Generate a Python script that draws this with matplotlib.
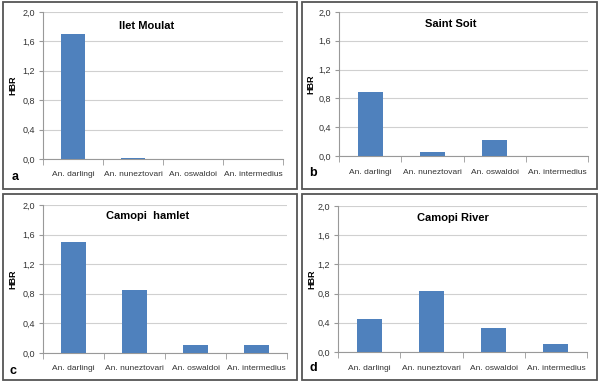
import matplotlib
matplotlib.use("Agg")
import matplotlib.pyplot as plt
from matplotlib.patches import Rectangle

plt.rcParams['font.family'] = ['Liberation Sans', 'DejaVu Sans']

species = ['An. darlingi', 'An. nuneztovari', 'An. oswaldoi', 'An. intermedius']
ilet_moulat = [1.70, 0.02, 0.0, 0.0]
saint_soit = [0.89, 0.05, 0.22, 0.0]
camopi_hamlet = [1.50, 0.85, 0.11, 0.11]
camopi_river = [0.45, 0.84, 0.33, 0.11]
titles = ['Ilet Moulat', 'Saint Soit', 'Camopi  hamlet', 'Camopi River']
letters = ['a', 'b', 'c', 'd']
yticks = [0.0, 0.4, 0.8, 1.2, 1.6, 2.0]

W, H = 600, 384
fig = plt.figure(figsize=(6, 3.84), dpi=100)

# panel boxes and plot areas in pixels (left, top, right, bottom)
boxes = [(3, 2, 297, 189), (302, 2, 597, 189), (3, 194, 297, 380), (302, 194, 597, 380)]
areas = [(43, 12, 283, 159), (339, 12, 588, 156), (43, 205, 287, 353), (338, 206, 587, 352)]
title_pos = [(0.43, 0.905), (0.45, 0.915), (0.43, 0.925), (0.46, 0.918)]
letter_pos = [(15, 177), (313, 173), (13, 371), (313, 368)]
hbr_x = [13, 311, 13, 312]

for bx in boxes:
    l, t, r, b = bx
    fig.patches.append(Rectangle((l / W, 1 - b / H), (r - l) / W, (b - t) / H,
                                 transform=fig.transFigure, fill=False,
                                 edgecolor='#555555', linewidth=1.3))

data = [ilet_moulat, saint_soit, camopi_hamlet, camopi_river]
for i, vals in enumerate(data):
    l, t, r, b = areas[i]
    ax = fig.add_axes([l / W, 1 - b / H, (r - l) / W, (b - t) / H])
    x = range(len(species))
    ax.bar(x, vals, width=0.4, color='#4F81BD', zorder=3)
    ax.set_xlim(-0.5, 3.5)
    ax.set_ylim(0, 2.0)
    ax.set_yticks(yticks)
    ax.set_yticklabels([f'{v:.1f}'.replace('.', ',') for v in yticks], fontsize=6.5, color='#333333')
    ax.yaxis.grid(True, color='#d0d0d0', linewidth=0.8, zorder=0)
    ax.set_xticks([0, 1, 2, 3])
    ax.set_xticklabels(species, fontsize=6, color='#333333')
    ax.set_xticks([-0.5, 0.5, 1.5, 2.5, 3.5], minor=True)
    ax.tick_params(axis='x', which='major', length=0, pad=9)
    ax.tick_params(axis='x', which='minor', length=4, color='#999999')
    ax.tick_params(axis='y', length=3, color='#999999', pad=3)
    for s in ['top', 'right']:
        ax.spines[s].set_visible(False)
    ax.spines['left'].set_color('#999999')
    ax.spines['bottom'].set_color('#999999')
    fig.text(hbr_x[i] / W, 1 - (t + b) / 2 / H, 'HBR', rotation=90, ha='center',
             va='center', fontsize=6.5, fontweight='bold')
    ax.text(title_pos[i][0], title_pos[i][1], titles[i], transform=ax.transAxes,
            ha='center', va='center', fontsize=8, fontweight='bold')
    lx, ly = letter_pos[i]
    fig.text(lx / W, 1 - ly / H, letters[i], ha='center', va='center',
             fontsize=9, fontweight='bold')

fig.savefig('out.png', dpi=100)
